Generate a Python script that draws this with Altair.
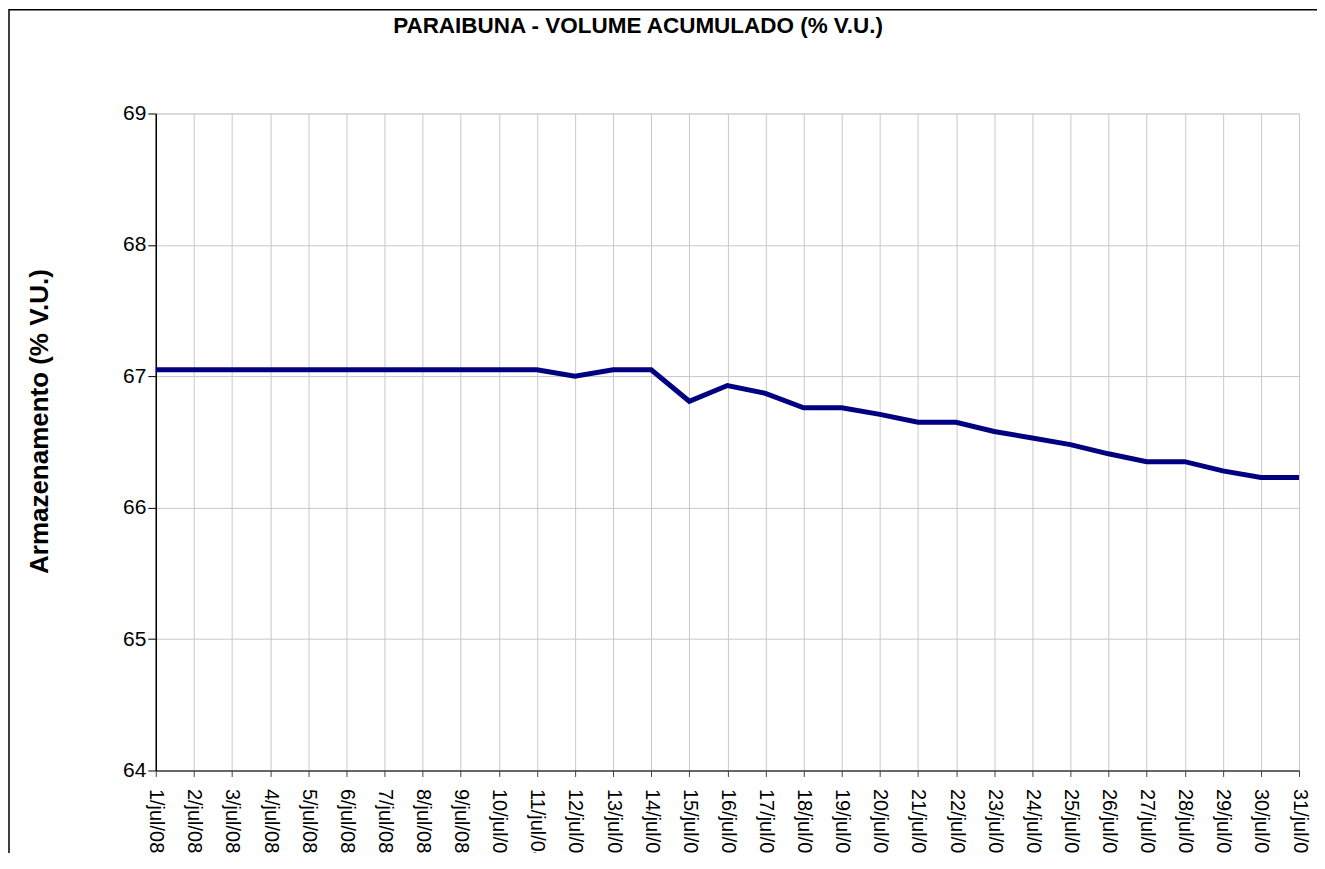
import altair as alt
import pandas as pd

dates = ["1/jul/08", "2/jul/08", "3/jul/08", "4/jul/08", "5/jul/08", "6/jul/08",
         "7/jul/08", "8/jul/08", "9/jul/08", "10/jul/08", "11/jul/08", "12/jul/08",
         "13/jul/08", "14/jul/08", "15/jul/08", "16/jul/08", "17/jul/08", "18/jul/08",
         "19/jul/08", "20/jul/08", "21/jul/08", "22/jul/08", "23/jul/08", "24/jul/08",
         "25/jul/08", "26/jul/08", "27/jul/08", "28/jul/08", "29/jul/08", "30/jul/08",
         "31/jul/08"]
values = [67.05, 67.05, 67.05, 67.05, 67.05, 67.05, 67.05, 67.05, 67.05, 67.05,
          67.05, 67.00, 67.05, 67.05, 66.81, 66.93, 66.87, 66.76, 66.76, 66.71,
          66.65, 66.65, 66.58, 66.53, 66.48, 66.41, 66.35, 66.35, 66.28, 66.23,
          66.23]
y_ticks = [64, 65, 66, 67, 68, 69]
title_text = ["PARAIBUNA - VOLUME ACUMULADO (% V.U.)"]
y_title = "Armazenamento (% V.U.)"

FONT = "Liberation Sans"

df = pd.DataFrame({"date": dates, "value": values})
tdf = pd.DataFrame({"t": title_text})

line = alt.Chart(df).mark_line(color="#000080", strokeWidth=5).encode(
    x=alt.X(
        "date:N",
        sort=dates,
        scale=alt.Scale(type="point", padding=0),
        axis=alt.Axis(
            title=None,
            labelAngle=90,
            labelAlign="left",
            labelBaseline="middle",
            labelFontSize=20,
            labelFont=FONT,
            labelColor="black",
            labelPadding=12,
            tickSize=6,
            tickColor="#404040",
            domainColor="#404040",
            domainWidth=1.5,
            grid=True,
            gridColor="#c8c8c8",
            gridWidth=1,
            labelOverlap=False,
        ),
    ),
    y=alt.Y(
        "value:Q",
        scale=alt.Scale(domain=[64, 69], nice=False, zero=False),
        axis=alt.Axis(
            values=y_ticks,
            title=y_title,
            titleFont=FONT,
            titleFontSize=26,
            titleFontWeight="bold",
            titleColor="black",
            titleAngle=-90,
            titleAlign="center",
            titleBaseline="middle",
            titleX=-116,
            titleY=308,
            labelFontSize=21,
            labelFont=FONT,
            labelColor="black",
            labelPadding=2,
            tickSize=8,
            tickColor="black",
            domainColor="black",
            domainWidth=1.5,
            grid=True,
            gridColor="#c8c8c8",
            gridWidth=1,
        ),
    ),
)

title = alt.Chart(tdf).mark_text(
    font=FONT, fontSize=22.5, fontWeight="bold", color="black",
    align="center", baseline="middle"
).encode(text="t:N", x=alt.value(483), y=alt.value(-88))

frame = alt.Chart(tdf).mark_rect(
    fillOpacity=0, stroke="black", strokeWidth=1.5
).encode(x=alt.value(-147), x2=alt.value(1164), y=alt.value(-104), y2=alt.value(900))

chart = alt.layer(frame, line, title).properties(
    width=1145,
    height=658,
    autosize="none",
    padding={"left": 148, "top": 105, "right": 18, "bottom": 82},
    background="white",
).configure_view(stroke="#808080", strokeWidth=1.5).configure(font=FONT)

chart.save("out.html", embed_options={"renderer": "svg", "actions": False})
